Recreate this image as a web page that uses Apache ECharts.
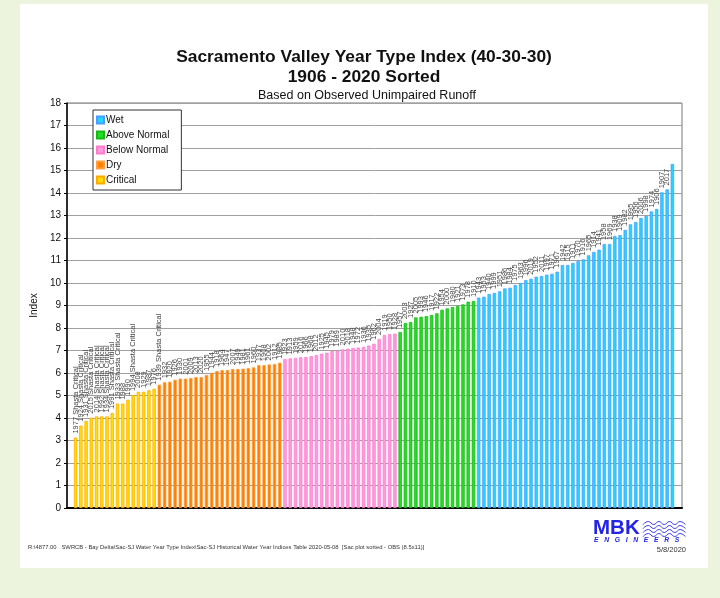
<!DOCTYPE html>
<html>
<head>
<meta charset="utf-8">
<script src="https://cdn.jsdelivr.net/npm/echarts@6/dist/echarts.min.js"></script>
<style>
	body { margin: 0; background: #ecf4dd; }
	#card { position: absolute; left: 20px; top: 4px; width: 688px; height: 564px; background: #fff; }
	#chart { position: absolute; left: 0; top: 0; width: 720px; height: 598px; }
</style>
</head>
<body>
<div id="card"></div>
<div id="chart"></div>
<script>
// sorted by index, grouped by year type
var critYears = ["1977", "1924", "1931", "2015", "2014", "1992", "1934", "1991", "1933", "1988", "1990", "1994", "2008", "1929", "1987", "1976"];
var critVals = [3.13, 3.66, 3.87, 4.01, 4.07, 4.07, 4.07, 4.22, 4.64, 4.64, 4.81, 5.02, 5.16, 5.16, 5.23, 5.30];
var dryYears = ["1939", "1932", "1920", "1926", "1930", "2001", "2009", "2013", "2020", "1955", "1944", "1918", "1964", "1947", "2007", "1949", "1981", "1961", "1960", "1937", "1908", "2002", "1912", "1985"];
var dryVals = [5.48, 5.59, 5.61, 5.70, 5.75, 5.75, 5.78, 5.82, 5.82, 5.91, 6.01, 6.09, 6.13, 6.13, 6.18, 6.18, 6.19, 6.22, 6.25, 6.35, 6.35, 6.38, 6.40, 6.46];
var bnYears = ["1923", "1913", "1959", "2016", "1966", "1968", "2012", "1925", "1945", "1979", "1989", "2010", "2018", "1948", "1972", "1936", "1935", "1962", "2004", "1919", "1950", "1928"];
var bnVals = [6.62, 6.65, 6.67, 6.70, 6.71, 6.75, 6.80, 6.86, 6.90, 6.99, 6.99, 7.05, 7.08, 7.11, 7.13, 7.16, 7.22, 7.30, 7.51, 7.69, 7.73, 7.75];
var anYears = ["1957", "2003", "1927", "2005", "1993", "1946", "1917", "1922", "1954", "2000", "1980", "1921", "1973", "1978", "1910"];
var anVals = [7.82, 8.22, 8.27, 8.47, 8.50, 8.53, 8.58, 8.65, 8.81, 8.87, 8.93, 8.98, 9.05, 9.17, 9.20];
var wetYears = ["1943", "1953", "1940", "1999", "1951", "1986", "1984", "1975", "1963", "1996", "2019", "1952", "2011", "1997", "1971", "1967", "1942", "1915", "1911", "1970", "1916", "1965", "1914", "1941", "1958", "1969", "1938", "1909", "1982", "1995", "1956", "2006", "1998", "1974", "1906", "1907", "2017", "1983"];
var wetVals = [9.35, 9.39, 9.51, 9.56, 9.63, 9.76, 9.79, 9.91, 10.00, 10.13, 10.19, 10.28, 10.31, 10.37, 10.41, 10.50, 10.80, 10.80, 10.89, 10.98, 11.05, 11.23, 11.38, 11.48, 11.73, 11.73, 12.09, 12.13, 12.36, 12.61, 12.71, 12.89, 12.98, 13.18, 13.29, 14.03, 14.16, 15.29];
var shastaCritical = ["1977", "1924", "1931", "2015", "2014", "1992", "1934", "1991", "1933", "1994", "1939"];
var noLabel = ["1983"];
var yTicks = [0, 18, 1];

var font = "Liberation Sans, Arial, sans-serif";
var years = [].concat(critYears, dryYears, bnYears, anYears, wetYears);

var groups = [
	{ name: "Wet", years: wetYears, vals: wetVals, color: "#22d4ff", border: "#4a9cff" },
	{ name: "Above Normal", years: anYears, vals: anVals, color: "#22dd22", border: "#16b816" },
	{ name: "Below Normal", years: bnYears, vals: bnVals, color: "#ff99dd", border: "#ff7acb" },
	{ name: "Dry", years: dryYears, vals: dryVals, color: "#ff8000", border: "#ff9f40" },
	{ name: "Critical", years: critYears, vals: critVals, color: "#ffdd00", border: "#ffa800" }
];

var series = [];
for (var g = 0; g < groups.length; g++) {
	var grp = groups[g];
	var d = [];
	for (var i = 0; i < years.length; i++) {
		var k = grp.years.indexOf(years[i]);
		d.push(k >= 0 ? grp.vals[k] : "-");
	}
	series.push({
		name: grp.name,
		type: "bar",
		xAxisIndex: 1,
		yAxisIndex: 1,
		barWidth: 3.4,
		barGap: "-100%",
		data: d,
		itemStyle: { color: grp.color, borderColor: grp.border, borderWidth: 0.7 },
		label: {
			show: true,
			position: "top",
			rotate: 90,
			align: "left",
			verticalAlign: "middle",
			distance: 4,
			fontFamily: font,
			fontSize: 7.5,
			color: "#444",
			formatter: function(p) {
				if (noLabel.indexOf(p.name) >= 0) return "";
				return shastaCritical.indexOf(p.name) >= 0 ? p.name + " Shasta Critical" : p.name;
			}
		}
	});
}

// little waves for the logo
var waves = [];
for (var w = 0; w < 4; w++) {
	var pts = [];
	for (var s = 0; s <= 8; s++) {
		pts.push([643 + s * 5.3, 523 + w * 4 + (s % 2 ? -1.5 : 1.5)]);
	}
	waves.push({
		type: "polyline",
		shape: { points: pts, smooth: 0.5 },
		style: { fill: null, stroke: "#2424e6", lineWidth: 0.9 }
	});
}

var chart = echarts.init(document.getElementById("chart"));
chart.setOption({
	backgroundColor: "transparent",
	animation: false,
	textStyle: { fontFamily: font },
	title: [{
		text: "Sacramento Valley Year Type Index (40-30-30)\n1906 - 2020 Sorted",
		left: 359,
		top: 42,
		textAlign: "center",
		textStyle: { fontSize: 17.4, fontWeight: "bold", color: "#111", lineHeight: 20, fontFamily: font }
	}, {
		text: "Based on Observed Unimpaired Runoff",
		left: 362,
		top: 84,
		textAlign: "center",
		textStyle: { fontSize: 12.5, fontWeight: "normal", color: "#111", fontFamily: font }
	}],
	legend: {
		orient: "vertical",
		left: 93,
		top: 110,
		padding: [4, 12, 4, 3],
		backgroundColor: "#fff",
		borderColor: "#333",
		borderWidth: 1,
		itemWidth: 7,
		itemHeight: 7,
		itemGap: 3,
		icon: "rect",
		textStyle: { fontSize: 10, lineHeight: 12, color: "#111", padding: [0, 0, 0, -3] },
		data: ["Wet", "Above Normal", "Below Normal", "Dry", "Critical"]
	},
	grid: [
		{ left: 67, right: 38, top: 103, bottom: 90, show: true, borderColor: "#777", borderWidth: 1 },
		{ left: 73, right: 45, top: 103, bottom: 90 }
	],
	xAxis: [{
		gridIndex: 0,
		type: "value",
		min: 0,
		max: 1,
		axisLine: { show: true, lineStyle: { color: "#000", width: 2 } },
		axisTick: { show: false },
		axisLabel: { show: false },
		splitLine: { show: false }
	}, {
		gridIndex: 1,
		type: "category",
		data: years,
		show: false
	}],
	yAxis: [{
		gridIndex: 0,
		type: "value",
		min: yTicks[0],
		max: yTicks[1],
		interval: yTicks[2],
		name: "Index",
		nameLocation: "middle",
		nameGap: 20,
		nameTextStyle: { fontSize: 10, color: "#111" },
		axisLine: { show: true, lineStyle: { color: "#000", width: 1.5 } },
		axisTick: { show: true, length: 3, lineStyle: { color: "#000" } },
		axisLabel: { fontSize: 10, color: "#111", margin: 6 },
		splitLine: { show: true, lineStyle: { color: "#a0a0a0", width: 1 } }
	}, {
		gridIndex: 1,
		type: "value",
		min: yTicks[0],
		max: yTicks[1],
		show: false,
		splitLine: { show: false }
	}],
	series: series,
	graphic: [{
		type: "text",
		left: 28,
		top: 544,
		style: {
			text: "R:\\4877.00   SWRCB - Bay Delta\\Sac-SJ Water Year Type Index\\Sac-SJ Historical Water Year Indices Table 2020-05-08  [Sac plot sorted - OBS (8.5x11)]",
			fontSize: 5.85,
			fontFamily: font,
			fill: "#333"
		}
	}, {
		type: "text",
		right: 34,
		top: 546,
		style: { text: "5/8/2020", fontSize: 7.5, fontFamily: font, fill: "#333" }
	}, {
		type: "text",
		left: 593,
		top: 518,
		style: { text: "MBK", fontSize: 20.5, fontWeight: "bold", fontFamily: font, fill: "#2424e6" }
	}, {
		type: "text",
		left: 594,
		top: 537,
		style: { text: "E   N   G   I   N   E   E   R   S", fontSize: 6.8, fontStyle: "italic", fontWeight: "bold", fontFamily: font, fill: "#2424e6" }
	}].concat(waves)
});
</script>
</body>
</html>
